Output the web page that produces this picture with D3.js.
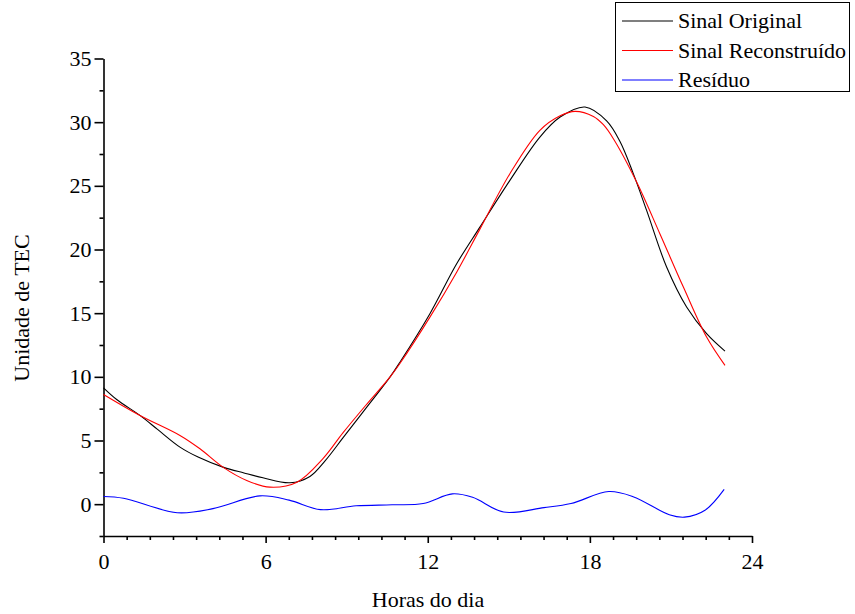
<!DOCTYPE html>
<html><head><meta charset="utf-8">
<script src="https://cdn.jsdelivr.net/npm/d3@7"></script>
<style>body{margin:0;background:#fff}svg{display:block}text{font-family:"Liberation Serif","Times New Roman",serif;fill:#000}</style>
</head><body><svg id="c" width="855" height="614"></svg>
<script>
const xTicks = [0, 6, 12, 18, 24];
const yTicks = [0, 5, 10, 15, 20, 25, 30, 35];
const seriesNames = ["Sinal Original", "Sinal Reconstruído", "Resíduo"];
const seriesColors = ["#000000", "#ff0000", "#0000ff"];

const origHours = [0,0.5,1.35,2,2.83,3.5,4.42,5.2,5.9,6.9,7.64,8.2,8.86,9.7,10.6,10.97,12.08,13.07,13.93,15.04,16.15,16.9,17.82,18.62,19.11,19.6,20.1,20.84,21.58,22.32,23.0];
const origVals  = [9.14,8.2,6.97,5.87,4.48,3.7,2.91,2.45,2.07,1.68,2.18,3.4,5.2,7.5,9.98,11.15,14.96,18.88,21.76,25.43,28.83,30.4,31.19,30.1,28.5,26.0,23.07,18.62,15.48,13.39,12.02];

const recHours = [0,1.35,2.83,3.57,4.42,5.3,6.16,7.16,8.13,8.86,9.7,10.6,10.97,12.08,13.07,13.93,15.04,16.15,16.9,17.45,18.13,18.5,18.87,19.73,20.59,21.46,22.32,23.0];
const recVals  = [8.62,6.97,5.4,4.35,2.91,1.86,1.34,1.73,3.6,5.6,7.75,9.98,11.05,14.69,18.22,21.6,25.95,29.36,30.5,30.85,30.45,29.8,28.7,25.3,21.24,17.05,13.12,10.9];

const resHours = [0,0.74,2.73,4.05,5.79,6.87,8.03,9.35,10.68,11.83,12.91,13.66,14.81,16.3,17.3,18.7,19.6,20.94,21.5,22.26,22.97];
const resVals  = [0.6,0.46,-0.67,-0.35,0.65,0.32,-0.43,-0.13,-0.05,0.05,0.81,0.54,-0.62,-0.27,0.05,0.99,0.59,-0.83,-1.02,-0.48,1.16];

const FS = "22px";
const svg = d3.select("#c");
const x = d3.scaleLinear().domain([0, 24]).range([103.5, 752]);
const y = d3.scaleLinear().domain([-2.5, 35]).range([536, 58.5]);

const xMinor = d3.range(0, 24 + 1e-9, 6 / 7).filter(v => !xTicks.some(t => Math.abs(t - v) < 1e-6));
const yMinor = d3.range(-2.5, 35, 5);

const gx = svg.append("g").attr("transform", `translate(0,${y(-2.5)})`);
gx.call(d3.axisBottom(x).tickValues(xTicks).tickSize(7).tickPadding(10).tickSizeOuter(0).tickFormat(d3.format("d")));
gx.append("g").call(d3.axisBottom(x).tickValues(xMinor).tickSize(4).tickFormat("").tickSizeOuter(0))
  .select(".domain").remove();

const gy = svg.append("g").attr("transform", `translate(${x(0)},0)`);
gy.call(d3.axisLeft(y).tickValues(yTicks).tickSize(9).tickPadding(3).tickSizeOuter(0).tickFormat(d3.format("d")));
gy.append("g").call(d3.axisLeft(y).tickValues(yMinor).tickSize(4).tickFormat("").tickSizeOuter(0))
  .select(".domain").remove();

svg.selectAll("g").attr("font-family", '"Liberation Serif", serif');
svg.selectAll(".domain").attr("stroke", "#000").attr("stroke-width", 1.6);
svg.selectAll(".tick line").attr("stroke", "#000").attr("stroke-width", 1.6);
svg.selectAll(".tick text").style("font-size", FS).style("font-family", '"Liberation Serif", serif').attr("fill", "#000");

const line = d3.line().x(d => x(d[0])).y(d => y(d[1])).curve(d3.curveCatmullRom.alpha(0.5));
const data = [
  d3.zip(origHours, origVals),
  d3.zip(recHours, recVals),
  d3.zip(resHours, resVals)
];
data.forEach((pts, i) => {
  svg.append("path").datum(pts).attr("d", line).attr("fill", "none")
    .attr("stroke", seriesColors[i]).attr("stroke-width", 1.1);
});

svg.append("text").attr("x", 428).attr("y", 607).attr("text-anchor", "middle")
  .style("font-size", FS).text("Horas do dia");
svg.append("text").attr("transform", "translate(29,308) rotate(-90)").attr("text-anchor", "middle")
  .style("font-size", FS).text("Unidade de TEC");

const lg = svg.append("g");
lg.append("rect").attr("x", 615.5).attr("y", 2.5).attr("width", 234).attr("height", 89)
  .attr("fill", "#fff").attr("stroke", "#000").attr("stroke-width", 1);
seriesNames.forEach((n, i) => {
  const cy = 21 + i * 29.5;
  lg.append("line").attr("x1", 622).attr("x2", 673).attr("y1", cy).attr("y2", cy)
    .attr("stroke", seriesColors[i]).attr("stroke-width", 1.1);
  lg.append("text").attr("x", 678).attr("y", cy + 7).style("font-size", FS).text(n);
});
</script></body></html>
